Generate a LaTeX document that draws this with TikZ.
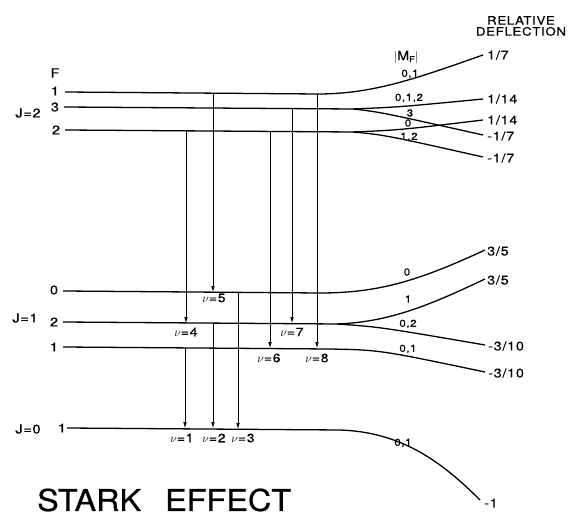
\documentclass[tikz,border=0pt]{standalone}
\usepackage{fontspec}
\setmainfont[FakeStretch=1.15,LetterSpace=6,FakeBold=0.5]{TeX Gyre Heros}
\newfontfamily\titlefont[FakeStretch=1.08,FakeBold=0.6]{TeX Gyre Heros}
\usetikzlibrary{arrows.meta}
\tikzset{
  lev/.style={line width=1.3pt},
  trans/.style={line width=0.6pt,-{Latex[length=6pt,width=3.6pt]}},
  lbl/.style={inner sep=0pt,font=\fontsize{12.5}{12.5}\selectfont},
  rlbl/.style={inner sep=0pt,font=\fontsize{12.5}{12.5}\selectfont},
  mlbl/.style={inner sep=0pt,font=\fontsize{10}{10}\selectfont},
  nlbl/.style={inner sep=0pt,font=\fontsize{12}{12}\selectfont},
}
\begin{document}
\begin{tikzpicture}[x=1pt,y=-1pt]
\useasboundingbox (0,0) rectangle (568,516);
% ---------- J=2 ----------
\coordinate (a1L) at (65,92);  \coordinate (a1M) at (318,94);  \coordinate (a1R) at (483,55);
\coordinate (a3L) at (64,107); \coordinate (a3M) at (353,109); \coordinate (a3U) at (483,99); \coordinate (a3D) at (483,135);
\coordinate (a2L) at (65,130); \coordinate (a2M) at (353,132); \coordinate (a2U) at (483,120); \coordinate (a2D) at (483,157);
\draw[lev] (a1L) -- (a1M) .. controls (375,94) and (420,77) .. (a1R);
\draw[lev] (a3L) -- (a3M) .. controls (400,107) .. (a3U);
\draw[lev] (a3M) .. controls (380,112) .. (a3D);
\draw[lev] (a2L) -- (a2M) .. controls (400,130) .. (a2U);
\draw[lev] (a2M) .. controls (385,135) .. (a2D);
% ---------- J=1 ----------
\coordinate (b0L) at (63,291); \coordinate (b0M) at (320,293); \coordinate (b0R) at (485,250);
\coordinate (b2L) at (63,322); \coordinate (b2M) at (337,324); \coordinate (b2U) at (485,279); \coordinate (b2D) at (485,345);
\coordinate (b1L) at (63,347); \coordinate (b1M) at (330,349); \coordinate (b1R) at (485,372);
\draw[lev] (b0L) -- (b0M) .. controls (380,293) and (420,280) .. (b0R);
\draw[lev] (b2L) -- (b2M) .. controls (390,322) and (430,305) .. (b2U);
\draw[lev] (b2M) .. controls (380,327) .. (b2D);
\draw[lev] (b1L) -- (b1M) .. controls (380,350) .. (b1R);
% ---------- J=0 ----------
\coordinate (c1L) at (67,428); \coordinate (c1M) at (340,430); \coordinate (c1R) at (480,500);
\draw[lev] (c1L) -- (c1M) .. controls (400,432) and (440,460) .. (c1R);
% ---------- transitions ----------
\coordinate (t4a) at (186,131); \coordinate (t4b) at (186,323);
\coordinate (t5a) at (213,93);  \coordinate (t5b) at (213,292);
\coordinate (t6a) at (270,131); \coordinate (t6b) at (270,348);
\coordinate (t7a) at (292,108); \coordinate (t7b) at (292,323);
\coordinate (t8a) at (317,94);  \coordinate (t8b) at (317,348);
\coordinate (t1a) at (185,348); \coordinate (t1b) at (185,428);
\coordinate (t2a) at (213,323); \coordinate (t2b) at (213,428);
\coordinate (t3a) at (238,292); \coordinate (t3b) at (238,429);
\foreach \i in {1,...,8} {\draw[trans] (t\i a) -- (t\i b);}
% ---------- left labels ----------
\node[lbl] (F) at (55,73) {F};
\node[lbl] (fa1) at (55,91) {1};
\node[lbl] (fa3) at (55,107) {3};
\node[lbl] (fa2) at (56,130) {2};
\node[lbl] (J2) at (28,113) {J=2};
\node[lbl] (fb0) at (54,290) {0};
\node[lbl] (fb2) at (54,322) {2};
\node[lbl] (fb1) at (54,347) {1};
\node[lbl] (J1) at (25,318) {J=1};
\node[lbl] (J0) at (28,429) {J=0};
\node[lbl] (fc1) at (62,428) {1};
% ---------- nu labels ----------
\node[nlbl] (n5) at (214,298) {$\nu$=5};
\node[nlbl] (n4) at (186,332) {$\nu$=4};
\node[nlbl] (n6) at (269,358) {$\nu$=6};
\node[nlbl] (n7) at (292,332) {$\nu$=7};
\node[nlbl] (n8) at (317,358) {$\nu$=8};
\node[nlbl] (n1) at (182,438) {$\nu$=1};
\node[nlbl] (n2) at (214,438) {$\nu$=2};
\node[nlbl] (n3) at (243,438) {$\nu$=3};
% ---------- M_F labels ----------
\node[lbl] (MF) at (406,57) {$|$M\raisebox{-2pt}{\fontsize{8}{8}\selectfont F}$|$};
\node[mlbl] (m1) at (410,74) {0,1};
\node[mlbl] (m2) at (409,98) {0,1,2};
\node[mlbl] (m3) at (410,113) {3};
\node[mlbl] (m4) at (408,123) {0};
\node[mlbl] (m5) at (409,137) {1,2};
\node[mlbl] (m6) at (407,272) {0};
\node[mlbl] (m7) at (408,299) {1};
\node[mlbl] (m8) at (408,324) {0,2};
\node[mlbl] (m9) at (408,349) {0,1};
\node[mlbl] (m10) at (403,443) {0,1};
% ---------- right labels ----------
\node[rlbl,anchor=west] (r1) at (487,55) {1/7};
\node[rlbl,anchor=west] (r2) at (487,99) {1/14};
\node[rlbl,anchor=west] (r3) at (487,120) {1/14};
\node[rlbl,anchor=west] (r4) at (487,136) {-1/7};
\node[rlbl,anchor=west] (r5) at (487,158) {-1/7};
\node[rlbl,anchor=west] (r6) at (487,251) {3/5};
\node[rlbl,anchor=west] (r7) at (487,280) {3/5};
\node[rlbl,anchor=west] (r8) at (488,346) {-3/10};
\node[rlbl,anchor=west] (r9) at (488,373) {-3/10};
\node[rlbl,anchor=west] (r10) at (484,503) {-1};
\node[rlbl,align=center,font=\fontsize{11.5}{11}\selectfont] (rel) at (521,26) {RELATIVE\\DEFLECTION};
% ---------- title ----------
\node[inner sep=0pt,anchor=west,font=\titlefont\fontsize{30}{30}\selectfont] (title) at (37,500) {STARK\hspace{24pt}EFFECT};
\end{tikzpicture}
\end{document}
